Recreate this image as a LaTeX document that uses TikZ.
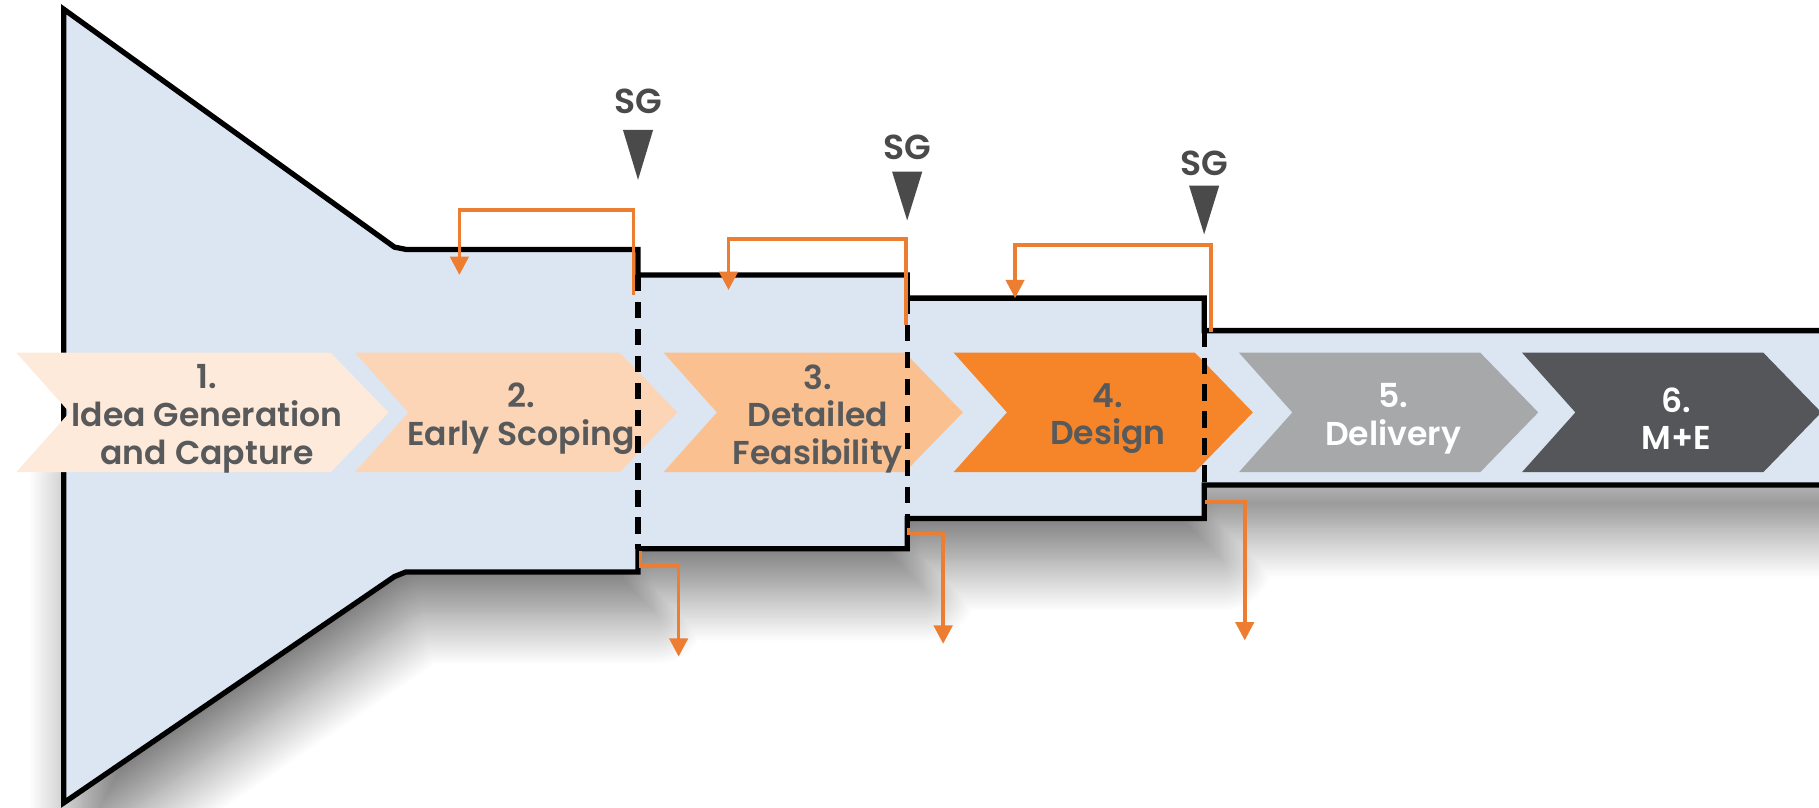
\documentclass[tikz,border=0pt]{standalone}
\usepackage{fontspec}
\setmainfont{Poppins}[BoldFont={* SemiBold}]
\usetikzlibrary{arrows.meta}
\usetikzlibrary{shadows.blur}
\definecolor{funnelblue}{HTML}{DCE6F2}
\definecolor{stageone}{HTML}{FDEADA}
\definecolor{stagetwo}{HTML}{FBD5B5}
\definecolor{stagethree}{HTML}{FAC08F}
\definecolor{stagefour}{HTML}{F6852A}
\definecolor{stagefive}{HTML}{A7A8AA}
\definecolor{stagesix}{HTML}{55565A}
\definecolor{txtgrey}{HTML}{58595B}
\definecolor{sggrey}{HTML}{4A4A4A}
\definecolor{looporange}{HTML}{ED7D31}

\begin{document}
\begin{tikzpicture}[x=0.01cm, y=-0.01cm,
		outline/.style={line width=1.3pt, line join=miter},
		gate/.style={line width=1.3pt, dash pattern=on 4pt off 2.6pt},
		loop/.style={draw=looporange, line width=0.9pt, -{Triangle[width=4.5pt,length=4.5pt]}},
		stage/.style={align=center, font=\bfseries\fontsize{8.1}{9.2}\selectfont, inner sep=0pt},
		sglabel/.style={font=\bfseries\fontsize{8.5}{9}\selectfont, text=sggrey, inner sep=0pt}]
		\useasboundingbox (0,0) rectangle (1568,696.5);
		% shadow of the lower half only
		\path[fill=funnelblue, blur shadow={shadow xshift=0.15cm, shadow yshift=-0.35cm, shadow blur radius=0.45cm, shadow opacity=55, shadow blur steps=30}]
			(55,380) -- (1600,380) -- (1600,418) -- (1038,418) -- (1038,447) -- (782,447) -- (782,473) -- (550,473) -- (550,493) -- (350,493) -- (340,497) -- (55,692) -- cycle;
		% funnel, boxes and band
		\fill[funnelblue]
			(55,8) -- (340,213) -- (350,215) -- (550,215) -- (550,237) -- (782,237) -- (782,257) -- (1038,257) -- (1038,285) -- (1600,285)
			-- (1600,418) -- (1038,418) -- (1038,447) -- (782,447) -- (782,473) -- (550,473) -- (550,493) -- (350,493) -- (340,497) -- (55,692) -- cycle;
		\draw[outline] (1600,285) -- (1038,285) -- (1038,257) -- (782,257) -- (782,237) -- (550,237) -- (550,215) -- (350,215) -- (340,213) -- (55,8)
			-- (55,692) -- (340,497) -- (350,493) -- (550,493) -- (550,473) -- (782,473) -- (782,447) -- (1038,447) -- (1038,418) -- (1600,418);
		% stages
		\foreach \x/\w/\c/\t/\n/\lab in {
			14/321/stageone/txtgrey/s1/{1.\\Idea Generation\\and Capture},
			306/278/stagetwo/txtgrey/s2/{2.\\Early Scoping},
			572/258/stagethree/txtgrey/s3/{3.\\Detailed\\Feasibility},
			822/258/stagefour/txtgrey/s4/{4.\\Design},
			1068/258/stagefive/white/s5/{5.\\Delivery},
			1312/258/stagesix/white/s6/{6.\\M+E}} {
			\fill[\c] (\x,304) -- (\x+\w-50,304) -- (\x+\w,355.5) -- (\x+\w-50,407) -- (\x,407) -- (\x+46,355.5) -- cycle;
			\node[stage, text=\t] (\n) at (\x+\w/2+4,361) {\lab};
		}
		% gates
		\draw[gate] (550,237) -- (550,473);
		\draw[gate] (782,257) -- (782,447);
		\draw[gate] (1038,285) -- (1038,418);
		% stage gate markers
		\node[sglabel] (g1) at (550,87) {SG};
		\node[sglabel] (g2) at (782,127) {SG};
		\node[sglabel] (g3) at (1038,141) {SG};
		\fill[sggrey] (537,112) -- (563,112) -- (550,155) -- cycle;
		\fill[sggrey] (769,148) -- (795,148) -- (782,190) -- cycle;
		\fill[sggrey] (1025,160) -- (1051,160) -- (1038,202) -- cycle;
		% loops back
		\coordinate (b1) at (546,254);
		\coordinate (r1) at (396,237);
		\coordinate (b2) at (781,280);
		\coordinate (r2) at (628,250);
		\coordinate (b3) at (1044,286);
		\coordinate (r3) at (875,257);
		\draw[loop] (b1) -- ++(0,-73) -| (r1);
		\draw[loop] (b2) -- ++(0,-74) -| (r2);
		\draw[loop] (b3) -- ++(0,-75) -| (r3);
		% ways out
		\coordinate (o1) at (552,475);
		\coordinate (d1) at (585,566);
		\coordinate (o2) at (783,455);
		\coordinate (d2) at (813,555);
		\coordinate (o3) at (1039,433);
		\coordinate (d3) at (1073,552);
		\draw[loop] (o1) -- ++(0,13) -| (d1);
		\draw[loop] (o2) -- ++(0,5) -| (d2);
		\draw[loop] (o3) -| (d3);
	\end{tikzpicture}
\end{document}
